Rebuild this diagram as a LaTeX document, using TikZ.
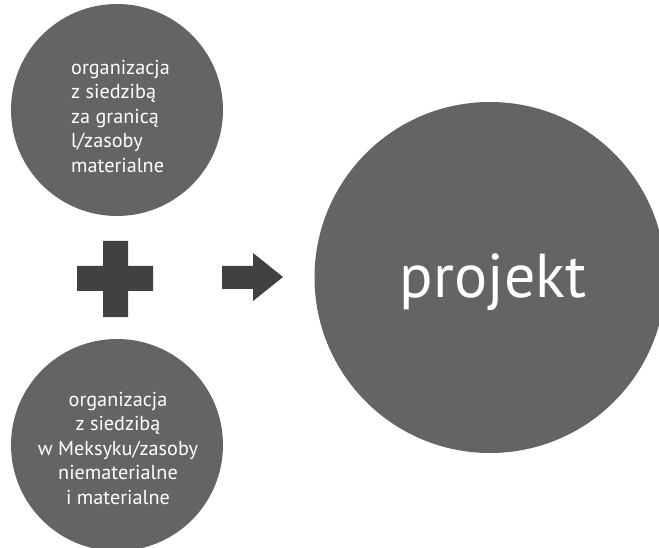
\documentclass[tikz,border=0pt]{standalone}
\usepackage{fontspec}
\setmainfont{PT Sans}
\definecolor{bubblegray}{HTML}{646466}
\definecolor{signgray}{HTML}{414143}

\begin{document}
\begin{tikzpicture}[x=1pt,y=-1pt,
  bubble/.style={circle, fill=bubblegray, inner sep=0pt},
  sign/.style={fill=signgray},
  caption/.style={text=white, inner sep=0pt, font=\fontsize{20.2}{24.5}\selectfont}]

% Page frame
\useasboundingbox (0,0) rectangle (659,548);
\clip (0,0) rectangle (659,548);

% Define points
\coordinate (zagrC) at (117,110);
\coordinate (meksC) at (117,445);
\coordinate (projC) at (490,277.5);

% Circles
\node[bubble, minimum size=212pt] (zagr) at (zagrC) {};
\node[bubble, minimum size=212pt] (meks) at (meksC) {};
\node[bubble, minimum size=351pt] (proj) at (projC) {};

% Plus sign
\fill[sign] (103,241) -- (128,241) -- (128,266) -- (153,266) -- (153,291)
  -- (128,291) -- (128,317) -- (103,317) -- (103,291) -- (77,291)
  -- (77,266) -- (103,266) -- cycle;

% Arrow
\fill[sign] (222,266) -- (253,266) -- (253,253) -- (283,277) -- (253,301)
  -- (253,289) -- (222,289) -- cycle;

% Labels
\node[caption, align=left, anchor=west] (zagrtxt) at (71,116)
  {organizacja\\z siedzibą\\za granicą\\l/zasoby\\materialne};
\node[caption, align=center] (mekstxt) at (118,448)
  {organizacja\\z siedzibą\\w Meksyku/zasoby\\niematerialne\\i materialne};
\node[caption, anchor=base, font=\fontsize{62}{70}\selectfont] (projtxt) at (493,298) {projekt};

\end{tikzpicture}
\end{document}
